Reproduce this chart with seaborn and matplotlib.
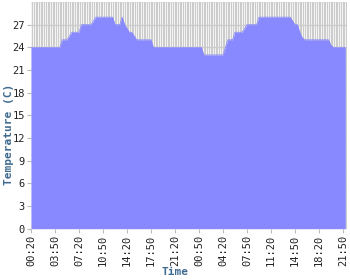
import matplotlib
matplotlib.use("Agg")
import matplotlib.pyplot as plt
import seaborn as sns
import pandas as pd

temps = ([24] * 13 + [25] * 3 + [25.5] + [26] * 4 + [27] * 5 + [27.5] + [28] * 8 +
         [27] * 3 + [28] + [27] + [26.5] + [26] * 2 + [25.5] + [25] * 7 + [24] * 21 +
         [23] * 9 + [24] + [25] * 3 + [26] * 4 + [26.5] + [27] * 5 + [28] * 14 +
         [27.5] + [27] * 2 + [26] + [25.3] + [25] * 11 + [24.3] + [24] * 6)
tick_labels = ["00:20", "03:50", "07:20", "10:50", "14:20", "17:50", "21:20",
               "00:50", "04:20", "07:50", "11:20", "14:50", "18:20", "21:50"]
y_ticks = [0, 3, 6, 9, 12, 15, 18, 21, 24, 27]

df = pd.DataFrame({"idx": range(len(temps)), "temp": temps})

sns.set_theme(style="white")
plt.rcParams['font.family'] = ['DejaVu Sans Mono', 'DejaVu Sans']

fig = plt.figure(figsize=(3.5, 2.8), dpi=100)
ax = fig.add_axes([31 / 350, (280 - 228.7) / 280, 316 / 350, 226.7 / 280])
ax.set_facecolor("#cccccc")

n = len(temps)
for i in range(n + 1):
    ax.axvline(i - 0.2, color="white", lw=0.55, zorder=0.5)
for y in y_ticks:
    ax.axhline(y, color="#cccccc", lw=1.0, zorder=0.6)

sns.lineplot(data=df, x="idx", y="temp", ax=ax, color="#8888ff", lw=0.5, zorder=2)
ax.fill_between(df["idx"], 0, df["temp"], color="#8888ff", lw=0, zorder=2)

ax.set_xlim(0, 131.7)
ax.set_ylim(0, 30)
ax.set_xticks(range(0, 131, 10))
ax.set_xticklabels(tick_labels, rotation=90, fontsize=7.5, color="#222222")
ax.set_yticks(y_ticks)
ax.set_yticklabels([str(v) for v in y_ticks], fontsize=7.5, color="#222222")
ax.tick_params(axis="both", length=3, width=0.8, color="#bbbbbb", pad=1.5,
               bottom=True, left=True)
for s in ax.spines.values():
    s.set_visible(False)

ax.set_xlabel("Time", fontsize=8, fontweight="bold", color="#3f6a8f")
ax.set_ylabel("Temperature (C)", fontsize=8, fontweight="bold", color="#3f6a8f")
ax.xaxis.set_label_coords(0.456, -0.168)
ax.yaxis.set_label_coords(-0.055, 0.418)

fig.savefig("out.png", dpi=100)
